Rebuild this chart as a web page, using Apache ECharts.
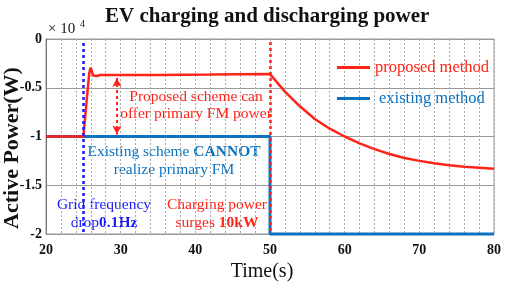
<!DOCTYPE html>
<html>
<head>
<meta charset="utf-8">
<script src="https://cdn.jsdelivr.net/npm/echarts@6/dist/echarts.min.js"></script>
<style>
  html, body { margin: 0; padding: 0; background: #fff; }
  #chart { width: 505px; height: 286px; }
</style>
</head>
<body>
<div id="chart"></div>
<script>
// proposed method (red), W
const proposedTime = [20, 25, 25.3, 25.6, 25.8, 25.95, 26.1, 26.3, 26.5, 26.8, 27.3, 28, 35, 42, 50,
  52, 54, 56, 58, 60, 62, 64, 66, 68, 70, 72, 74, 76, 78, 80]
const proposedPower = [-10000, -10000, -7600, -5000, -3500, -2950, -3200, -3750, -3900, -3800, -3700, -3700, -3680, -3650, -3600,
  -5400, -6900, -8200, -9200, -10000, -10700, -11300, -11800, -12200, -12500, -12750, -12950, -13100, -13200, -13300]
// existing method (blue), W
const existingTime = [20, 50, 50, 80]
const existingPower = [-10000, -10000, -20000, -20000]
// events: frequency drop and charging surge
const freqDropTime = 25
const surgeTime = 50
const arrowTime = 29.5
const arrowFrom = -4000
const arrowTo = -9800
const xTicks = [20, 30, 40, 50, 60, 70, 80]
const yTicks = [0, -0.5, -1, -1.5, -2]

const serif = 'Liberation Serif'
const red = '#ff2419'
const blue = '#0a72c0'
const pure = '#1a1aff'

const toPairs = (xs, ys) => xs.map((x, i) => [x, ys[i]])

const chart = echarts.init(document.getElementById('chart'))
const option = {
  animation: false,
  title: {
    text: 'EV charging and discharging power',
    left: 100,
    top: 1,
    textStyle: { fontFamily: serif, fontWeight: 'bold', fontSize: 21, color: '#111' }
  },
  grid: {
    left: 46, right: 11, top: 39, bottom: 52,
    outerBoundsMode: 'none',
    containLabel: false,
    show: true, borderColor: '#999', borderWidth: 1
  },
  legend: {
    orient: 'vertical',
    left: 332,
    top: 54,
    itemWidth: 33,
    itemHeight: 3,
    itemGap: 14,
    icon: 'rect',
    textStyle: { fontFamily: serif, fontSize: 16.5 },
    data: [
      { name: 'proposed method', textStyle: { color: red } },
      { name: 'existing method', textStyle: { color: blue, padding: [0, 0, 0, 4] } }
    ]
  },
  xAxis: {
    type: 'value',
    min: 20, max: 80, interval: 2,
    name: 'Time(s)',
    nameLocation: 'middle',
    nameGap: 24,
    nameTextStyle: { fontFamily: serif, fontSize: 20, color: '#111', padding: [0, 16, 0, 0] },
    axisLine: { show: false },
    axisTick: { show: false },
    axisLabel: {
      margin: 9,
      fontFamily: serif, fontWeight: 'bold', fontSize: 14, color: '#111',
      formatter: v => (xTicks.includes(v) ? String(v) : '')
    },
    splitLine: { lineStyle: { color: '#aaa', type: [2, 2], width: 1 } }
  },
  yAxis: {
    type: 'value',
    min: -20000, max: 0, interval: 5000,
    axisLine: { show: true, lineStyle: { color: '#777' } },
    axisTick: { show: false },
    axisLabel: {
      margin: 4,
      fontFamily: serif, fontWeight: 'bold', fontSize: 14, color: '#111',
      formatter: v => String(yTicks.find(t => Math.abs(t * 10000 - v) < 1))
    },
    splitLine: { lineStyle: { color: '#999', width: 1 } }
  },
  series: [
    {
      name: 'existing method',
      type: 'line',
      data: toPairs(existingTime, existingPower),
      showSymbol: false,
      clip: false,
      color: blue,
      lineStyle: { width: 3, color: blue },
      z: 2,
      markLine: {
        silent: true,
        symbol: 'none',
        label: { show: false },
        lineStyle: { color: pure, type: [3, 3], width: 2.5 },
        data: [[{ coord: [freqDropTime, -400] }, { coord: [freqDropTime, -20000] }]]
      }
    },
    {
      name: 'proposed method',
      type: 'line',
      data: toPairs(proposedTime, proposedPower),
      showSymbol: false,
      color: red,
      lineStyle: { width: 2.5, color: red },
      z: 3,
      markLine: {
        silent: true,
        label: { show: false },
        data: [
          [
            { coord: [surgeTime, -300], symbol: 'none', lineStyle: { color: red, type: [3, 3], width: 2.5 } },
            { coord: [surgeTime, -20000], symbol: 'none' }
          ],
          [
            { coord: [arrowTime, arrowFrom], symbol: 'arrow', symbolSize: [7, 9], lineStyle: { color: red, type: [3, 3], width: 2 } },
            { coord: [arrowTime, arrowTo], symbol: 'arrow', symbolSize: [7, 9] }
          ]
        ]
      }
    }
  ],
  graphic: [
    {
      // y-axis title
      type: 'text', x: 12, y: 148, rotation: Math.PI / 2,
      style: {
        text: 'Active Power(W)', fontFamily: serif, fontWeight: 'bold', fontSize: 22, fill: '#111',
        align: 'center', verticalAlign: 'middle'
      }
    },
    {
      type: 'text', x: 48, y: 22,
      style: { text: '× 10', fontFamily: serif, fontSize: 15, fill: '#111' }
    },
    {
      type: 'text', x: 80, y: 19,
      style: { text: '4', fontFamily: serif, fontSize: 10, fill: '#111' }
    },
    {
      type: 'text', x: 196, y: 105,
      style: {
        text: 'Proposed scheme can\noffer primary FM power',
        font: '15.5px "Liberation Serif"', fill: red,
        align: 'center', verticalAlign: 'middle', lineHeight: 17
      }
    },
    {
      type: 'text', x: 174, y: 161,
      style: {
        text: 'Existing scheme {b|CANNOT}\nrealize primary FM',
        font: '15.5px "Liberation Serif"', fill: blue,
        align: 'center', verticalAlign: 'middle', lineHeight: 18,
        rich: { b: { fontFamily: serif, fontSize: 15.5, fontWeight: 'bold', fill: blue, lineHeight: 18 } }
      }
    },
    {
      type: 'text', x: 104, y: 214,
      style: {
        text: 'Grid frequency\ndrop{b|0.1Hz}',
        font: '15.5px "Liberation Serif"', fill: pure,
        align: 'center', verticalAlign: 'middle', lineHeight: 18,
        rich: { b: { fontFamily: serif, fontSize: 15.5, fontWeight: 'bold', fill: pure, lineHeight: 18 } }
      }
    },
    {
      type: 'text', x: 217, y: 214,
      style: {
        text: 'Charging power\nsurges {b|10kW}',
        font: '15.5px "Liberation Serif"', fill: red,
        align: 'center', verticalAlign: 'middle', lineHeight: 18,
        rich: { b: { fontFamily: serif, fontSize: 15.5, fontWeight: 'bold', fill: red, lineHeight: 18 } }
      }
    }
  ]
}
chart.setOption(option)
</script>
</body>
</html>
